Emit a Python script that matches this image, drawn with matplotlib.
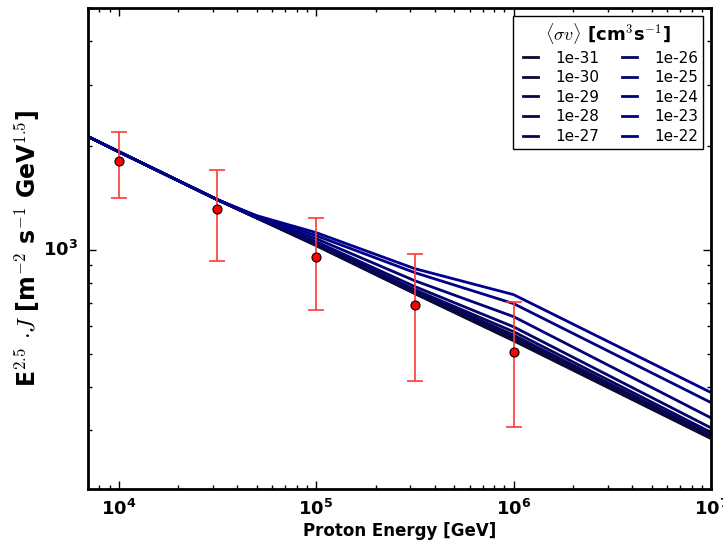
import matplotlib
matplotlib.use("Agg")
import matplotlib.pyplot as plt
import numpy as np

plt.style.use("classic")
plt.rcParams["mathtext.fontset"] = "cm"
plt.rcParams["font.family"] = ["DejaVu Sans"]

# Measured proton spectrum (E^2.5 J) with symmetric uncertainties
data_energy = [1e4, 3.16e4, 1e5, 3.16e5, 1e6]
data_flux = [1802, 1311, 952, 693, 506]
data_err = [390, 384, 283, 277, 199]

# Model curves for different annihilation cross sections
model_energy = [7e3, 1e4, 3.16e4, 5e4, 1e5, 3.16e5, 1e6, 1e7]
sigma_labels = ["1e-31", "1e-30", "1e-29", "1e-28", "1e-27",
                "1e-26", "1e-25", "1e-24", "1e-23", "1e-22"]
flux_1e31 = [2124, 1921, 1395, 1235, 1027, 746, 545, 284]
flux_1e30 = [2124, 1921, 1395, 1235, 1030, 748, 549, 286]
flux_1e29 = [2124, 1921, 1395, 1236, 1034, 751, 553, 287]
flux_1e28 = [2124, 1921, 1395, 1236, 1037, 754, 558, 289]
flux_1e27 = [2124, 1921, 1395, 1237, 1041, 759, 566, 291]
flux_1e26 = [2124, 1921, 1395, 1238, 1044, 766, 579, 296]
flux_1e25 = [2124, 1921, 1395, 1240, 1055, 782, 598, 305]
flux_1e24 = [2124, 1921, 1395, 1245, 1076, 813, 640, 326]
flux_1e23 = [2124, 1921, 1395, 1250, 1098, 858, 698, 361]
flux_1e22 = [2124, 1921, 1395, 1254, 1120, 881, 741, 386]
model_flux = [flux_1e31, flux_1e30, flux_1e29, flux_1e28, flux_1e27,
              flux_1e26, flux_1e25, flux_1e24, flux_1e23, flux_1e22]

fig = plt.figure(figsize=(7.23, 5.43), dpi=100, facecolor="white")
ax = fig.add_axes([88 / 723, 1 - 489 / 543, (711 - 88) / 723, (489 - 8) / 543])
ax.set_facecolor("white")

n = len(model_flux)
for i, (lab, flux) in enumerate(zip(sigma_labels, model_flux)):
    t = i / (n - 1)
    color = (0.04 * (1 - t), 0.04 * (1 - t), 0.16 + 0.39 * t)
    ax.plot(model_energy, flux, color=color, lw=2.0, label=lab, zorder=2)

ax.errorbar(data_energy, data_flux, yerr=data_err, fmt="none",
            ecolor="#ff3a3a", elinewidth=1.2, capsize=6, capthick=1.2, zorder=3)
ax.plot(data_energy, data_flux, "o", color="red", mec="black", mew=0.8,
        ms=6.5, zorder=4)

ax.set_xscale("log")
ax.set_yscale("log")
ax.set_xlim(7e3, 1e7)
ax.set_ylim(203, 5000)

for sp in ax.spines.values():
    sp.set_linewidth(2)

ax.tick_params(which="both", direction="in", top=True, right=True)
ax.tick_params(which="major", length=6, width=1)
ax.tick_params(which="minor", length=3, width=1)
for lbl in ax.get_xticklabels() + ax.get_yticklabels():
    lbl.set_fontweight("bold")
ax.tick_params(labelsize=13, pad=7)

ax.set_xlabel("Proton Energy [GeV]", fontsize=12, fontweight="bold", labelpad=2)
ax.set_ylabel(r"E$^{2.5}$ $\cdot J$ [m$^{-2}$ s$^{-1}$ GeV$^{1.5}$]",
              fontsize=17, fontweight="bold", labelpad=1)

leg = ax.legend(loc="upper right", ncol=2, fontsize=11, frameon=True,
                title=r"$\langle\sigma v\rangle$ [cm$^3$s$^{-1}$]",
                handlelength=1.6, handletextpad=0.8, columnspacing=1.2,
                labelspacing=0.3, borderaxespad=0.5, borderpad=0.35,
                fancybox=False)
leg.get_title().set_fontweight("bold")
leg.get_title().set_fontsize(13)
leg.get_frame().set_edgecolor("black")
leg.get_frame().set_linewidth(1)

fig.savefig("out.png", dpi=100, facecolor="white")
